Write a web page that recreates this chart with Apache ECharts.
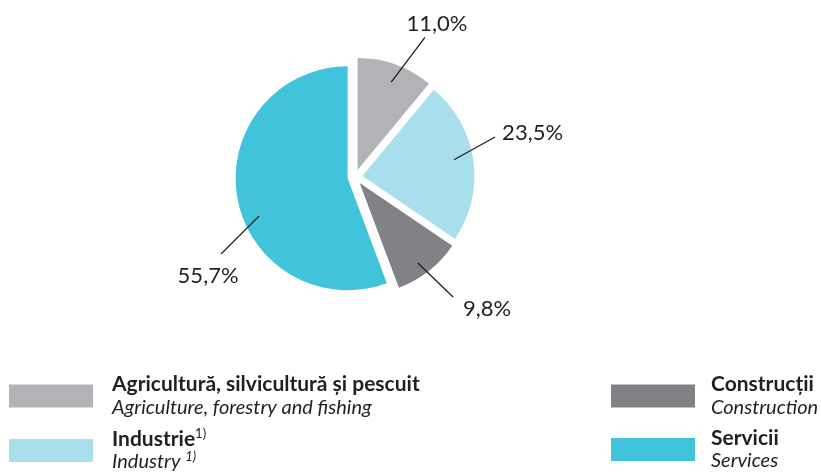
<!DOCTYPE html>
<html>
<head>
<meta charset="utf-8">
<script src="https://cdn.jsdelivr.net/npm/echarts@6/dist/echarts.min.js"></script>
<style>html,body{margin:0;padding:0;background:#fff}#c{width:821px;height:473px}</style>
</head>
<body>
<div id="c"></div>
<script>
// Data
const categoriesRo = ['Agricultură, silvicultură și pescuit', 'Industrie', 'Construcții', 'Servicii'];
const categoriesEn = ['Agriculture, forestry and fishing', 'Industry', 'Construction', 'Services'];
const footnotes = ['', '1)', '', ''];
const shares = [11.0, 23.5, 9.8, 55.7];
const colors = ['#b1b3b6', '#a9deec', '#808285', '#41c3db'];

// leader line styling (degrees clockwise from 12 o'clock, px)
const leaderStartAngle = [21, 80, 144, 247];
const leaderStartR = [94, 93, 99, 96];
const leaderAngle = [37, 61, 134, 225];
const leaderLength = [56, 47, 49, 54];
const textOffset = [[12, -14, 'center'], [7, -4, 'left'], [10, 12, 'left'], [-13, 22, 'center']];

const pieRadius = 112;
const total = shares.reduce((a, b) => a + b, 0);
const bisector = shares.map((v, i) => (shares.slice(0, i).reduce((a, b) => a + b, 0) + v / 2) / total * 360);
const dir = deg => [Math.sin(deg * Math.PI / 180), -Math.cos(deg * Math.PI / 180)];

const chart = echarts.init(document.getElementById('c'), null, {renderer: 'canvas'});

const pieData = shares.map((v, i) => ({
  name: categoriesRo[i], value: v, selected: true,
  itemStyle: {color: colors[i]}
}));
const labelData = shares.map((v, i) => ({
  name: categoriesRo[i], value: v, selected: true
}));

function legendFmt(name) {
  const i = categoriesRo.indexOf(name);
  let s = '{b|' + name + '}';
  if (footnotes[i]) s += '{sb|' + footnotes[i] + '}';
  s += '\n{i|' + categoriesEn[i] + (footnotes[i] ? ' ' : '') + '}';
  if (footnotes[i]) s += '{si|' + footnotes[i] + '}';
  return s;
}
const legendRich = {
  b: {fontFamily: 'Lato', fontWeight: 'bold', fontSize: 21, color: '#231f20', lineHeight: 23},
  sb: {fontFamily: 'Lato', fontSize: 13, color: '#231f20', verticalAlign: 'top', lineHeight: 23},
  i: {fontFamily: 'Lato', fontStyle: 'italic', fontSize: 20, color: '#231f20', lineHeight: 23},
  si: {fontFamily: 'Lato', fontStyle: 'italic', fontSize: 13, color: '#231f20', verticalAlign: 'top', lineHeight: 23}
};
function legendBase(pad) {
  return {
    orient: 'vertical', itemWidth: 84, itemHeight: 23, itemGap: 10, icon: 'rect',
    selectedMode: false, formatter: legendFmt, padding: 0, height: 110,
    textStyle: {rich: legendRich, padding: [0, 0, 0, pad]}
  };
}

chart.setOption({
  animation: false,
  legend: [
    Object.assign(legendBase(14), {left: 9, top: 374, data: [categoriesRo[0], categoriesRo[1]]}),
    Object.assign(legendBase(11), {left: 611, top: 374, data: [categoriesRo[2], categoriesRo[3]]})
  ],
  series: [
    {
      type: 'pie', center: [355, 177], radius: pieRadius, startAngle: 90, clockwise: true,
      selectedMode: 'multiple', selectedOffset: 7.5, silent: true,
      label: {show: false}, labelLine: {show: false},
      emphasis: {disabled: true},
      data: pieData
    },
    {
      type: 'pie', center: [355, 177], radius: pieRadius, startAngle: 90, clockwise: true,
      selectedMode: 'multiple', selectedOffset: 7.5, silent: true, z: 5,
      avoidLabelOverlap: false,
      itemStyle: {color: 'rgba(0,0,0,0)'},
      emphasis: {disabled: true},
      label: {
        show: true, position: 'outside', fontFamily: 'Lato', fontSize: 22, color: '#231f20',
        distanceToLabelLine: 0,
        formatter: p => p.value.toFixed(1).replace('.', ',') + '%'
      },
      labelLine: {show: true, length: 20, length2: 0, lineStyle: {color: '#231f20', width: 1.3}},
      labelLayout: p => {
        const i = p.dataIndex;
        const pts = p.labelLinePoints;
        const s0 = pts[0], last = pts[pts.length - 1];
        const db = dir(bisector[i]);
        const c = [s0[0] - pieRadius * db[0], s0[1] - pieRadius * db[1]];
        const ds = dir(leaderStartAngle[i]);
        const start = [c[0] + leaderStartR[i] * ds[0], c[1] + leaderStartR[i] * ds[1]];
        const da = dir(leaderAngle[i]);
        const end = [start[0] + leaderLength[i] * da[0], start[1] + leaderLength[i] * da[1]];
        const r = p.labelRect;
        const curAnchorX = p.align === 'left' ? r.x : (p.align === 'right' ? r.x + r.width : r.x + r.width / 2);
        const curAnchorY = r.y + r.height / 2;
        const offX = curAnchorX - last[0], offY = curAnchorY - last[1];
        const al = textOffset[i][2];
        const wantCx = end[0] + textOffset[i][0] + offX + (al === 'left' ? r.width / 2 : al === 'right' ? -r.width / 2 : 0);
        const wantCy = end[1] + textOffset[i][1] + offY;
        return {
          dx: wantCx - (r.x + r.width / 2),
          dy: wantCy - (r.y + r.height / 2),
          labelLinePoints: [start, end]
        };
      },
      data: labelData
    }
  ]
});
</script>
</body>
</html>
